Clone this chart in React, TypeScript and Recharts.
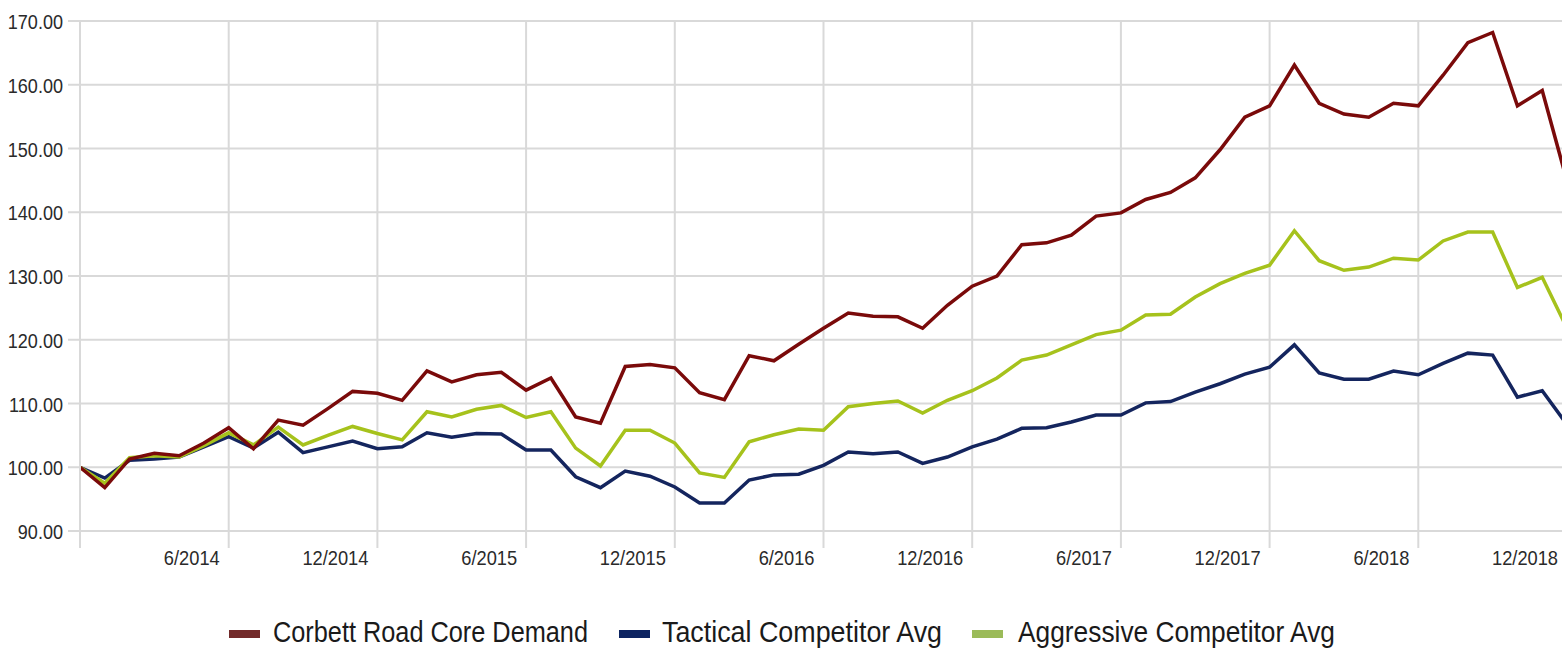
import { LineChart, Line, XAxis, YAxis, CartesianGrid } from 'recharts';

// monthly index values, 12/2013 .. 12/2018
const corbett = [
  100, 96.8, 101.3, 102.2, 101.8, 103.8, 106.2, 102.9, 107.4, 106.6, 109.2, 111.9, 111.6,
  110.5, 115.1, 113.4, 114.5, 114.9, 112.1, 114.0, 107.9, 106.9, 115.8, 116.1, 115.6,
  111.7, 110.6, 117.5, 116.7, 119.3, 121.8, 124.2, 123.7, 123.6, 121.8, 125.4, 128.4,
  130.0, 134.9, 135.2, 136.4, 139.4, 139.9, 142.0, 143.1, 145.4, 149.8, 154.9, 156.7,
  163.1, 157.1, 155.4, 154.9, 157.1, 156.7, 161.5, 166.6, 168.2, 156.7, 159.1, 144.9,
];
const tactical = [
  100, 98.3, 101.1, 101.3, 101.6, 103.2, 104.8, 103.0, 105.5, 102.3, 103.2, 104.1, 102.9,
  103.2, 105.4, 104.7, 105.3, 105.2, 102.7, 102.7, 98.5, 96.8, 99.4, 98.6, 96.9,
  94.4, 94.4, 98.0, 98.8, 98.9, 100.3, 102.4, 102.1, 102.4, 100.6, 101.6, 103.2,
  104.4, 106.1, 106.2, 107.1, 108.2, 108.2, 110.1, 110.3, 111.8, 113.1, 114.6, 115.7,
  119.2, 114.8, 113.8, 113.8, 115.1, 114.5, 116.3, 117.9, 117.6, 111.0, 112.0, 106.7,
];
const aggressive = [
  100, 97.5, 101.5, 101.8, 101.6, 103.4, 105.4, 103.5, 106.3, 103.5, 105.0, 106.4, 105.3,
  104.3, 108.7, 107.9, 109.1, 109.7, 107.8, 108.7, 103.0, 100.2, 105.8, 105.8, 103.8,
  99.1, 98.4, 104.0, 105.1, 106.0, 105.8, 109.5, 110.0, 110.4, 108.5, 110.5, 112.0,
  114.0, 116.8, 117.6, 119.2, 120.8, 121.5, 123.9, 124.0, 126.7, 128.8, 130.4, 131.7,
  137.1, 132.4, 130.9, 131.4, 132.8, 132.5, 135.5, 136.9, 136.9, 128.2, 129.8, 121.8,
];

const months: string[] = [];
for (let y = 2013; y <= 2018; y++) {
  for (let m = 1; m <= 12; m++) {
    if (y === 2013 && m < 12) continue;
    months.push(`${m}/${y}`);
  }
}

const xTicks = ['12/2013', '6/2014', '12/2014', '6/2015', '12/2015', '6/2016', '12/2016', '6/2017', '12/2017', '6/2018', '12/2018'];
const yTicks = [90, 100, 110, 120, 130, 140, 150, 160, 170];

const colors = {
  corbett: '#7a0a0a',
  tactical: '#14255e',
  aggressive: '#a6c21c',
  grid: '#d9d9d9',
  text: '#2a2a2a',
};

const legendItems = [
  { name: 'Corbett Road Core Demand', swatch: '#722a2a' },
  { name: 'Tactical Competitor Avg', swatch: '#0d2461' },
  { name: 'Aggressive Competitor Avg', swatch: '#9bbb59' },
];

// legend layout (swatch x, text x, text width)
const legendLayout = [
  { sx: 229, tx: 273, tw: 315 },
  { sx: 619, tx: 662, tw: 280 },
  { sx: 972, tx: 1018, tw: 317 },
];

const data = months.map((month, i) => ({
  month,
  corbett: corbett[i],
  tactical: tactical[i],
  aggressive: aggressive[i],
}));

const axisFont = '"Liberation Sans", Arial, sans-serif';

function XTick({ x, y, payload }: any) {
  if (payload.value === '12/2013') return null;
  return (
    <text
      transform={`translate(${x - 9},${y}) scale(0.87,1)`}
      dy={17}
      textAnchor="end"
      fill={colors.text}
      fontSize={21}
      fontFamily={axisFont}
    >
      {payload.value}
    </text>
  );
}

function YTick({ x, y, payload }: any) {
  return (
    <text
      transform={`translate(${x},${y}) scale(0.86,1)`}
      dy={8}
      textAnchor="end"
      fill={colors.text}
      fontSize={21}
      fontFamily={axisFont}
    >
      {Number(payload.value).toFixed(2)}
    </text>
  );
}

export default function App() {
  return (
    <div style={{ position: 'absolute', left: 0, top: 0, width: 1562, height: 649, overflow: 'hidden', background: '#fff' }}>
      <LineChart width={1580} height={600} data={data} margin={{ top: 21, right: 13, left: 0, bottom: 40 }}>
        <CartesianGrid stroke={colors.grid} strokeWidth={2} />
        <XAxis
          dataKey="month"
          ticks={xTicks}
          interval={0}
          height={29}
          axisLine={false}
          tickLine={{ stroke: colors.grid, strokeWidth: 2 }}
          tickSize={17}
          tickMargin={0}
          tick={<XTick />}
        />
        <YAxis
          width={80}
          domain={[90, 170]}
          ticks={yTicks}
          axisLine={{ stroke: colors.grid, strokeWidth: 2 }}
          tickLine={{ stroke: colors.grid, strokeWidth: 2 }}
          tickSize={12}
          tickMargin={5}
          tick={<YTick />}
        />
        <Line type="linear" dataKey="tactical" stroke={colors.tactical} strokeWidth={3.5} dot={false} isAnimationActive={false} />
        <Line type="linear" dataKey="aggressive" stroke={colors.aggressive} strokeWidth={3.5} dot={false} isAnimationActive={false} />
        <Line type="linear" dataKey="corbett" stroke={colors.corbett} strokeWidth={3.5} dot={false} isAnimationActive={false} />
      </LineChart>
      <svg width={1562} height={49} style={{ position: 'absolute', left: 0, top: 600 }}>
        {legendItems.map((item, i) => {
          const l = legendLayout[i];
          return (
            <g key={item.name}>
              <rect x={l.sx} y={30} width={31} height={8} fill={item.swatch} />
              <text
                x={l.tx}
                y={42}
                textLength={l.tw}
                lengthAdjust="spacingAndGlyphs"
                fontSize={30}
                fontFamily={axisFont}
                fill="#1a1a1a"
              >
                {item.name}
              </text>
            </g>
          );
        })}
      </svg>
    </div>
  );
}
